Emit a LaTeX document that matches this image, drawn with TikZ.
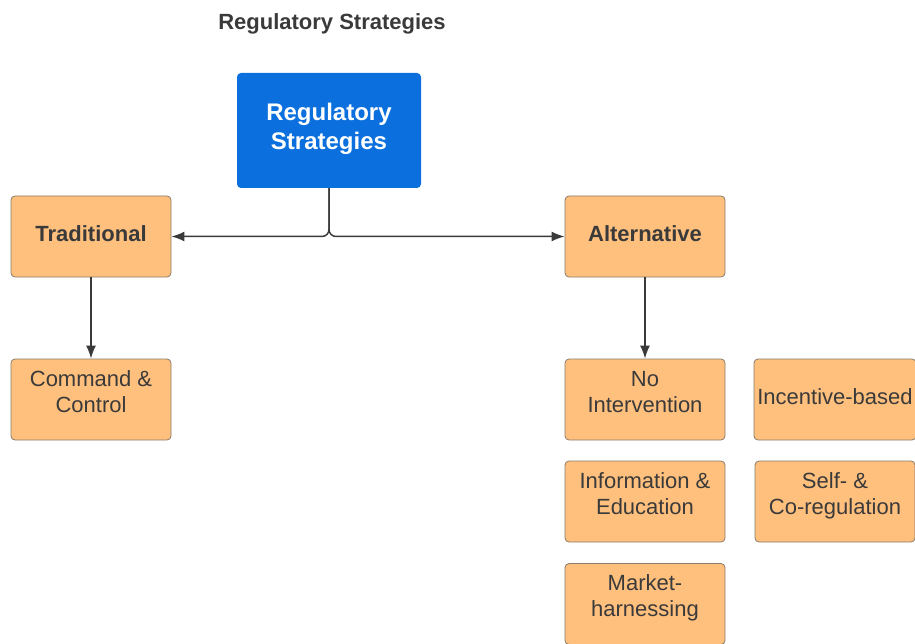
\documentclass[tikz,border=0pt]{standalone}
\usepackage{fontspec}
\setmainfont{Liberation Sans}
\usetikzlibrary{arrows.meta,positioning}

\definecolor{boxfill}{HTML}{FFC07E}
\definecolor{boxline}{HTML}{8A7A6A}
\definecolor{topfill}{HTML}{0B70DE}
\definecolor{ink}{HTML}{3A3A3A}

\begin{document}
\begin{tikzpicture}[x=1pt,y=-1pt,
    box/.style={draw=boxline, fill=boxfill, rounded corners=4pt, line width=0.8pt,
      minimum width=160pt, minimum height=81pt, align=center, text=ink, text depth=6pt,
      font=\fontsize{22}{26}\selectfont},
    twoline/.style={text depth=16pt},
    headbox/.style={box, font=\fontsize{22}{26}\selectfont\bfseries},
    link/.style={draw=ink, line width=1.5pt, -{Latex[length=13pt,width=10pt]}}]
  \useasboundingbox (0,0) rectangle (915,644);

  \node[text=ink, font=\fontsize{22}{26}\selectfont\bfseries] (title) at (332,23.5) {Regulatory Strategies};
  \node[fill=topfill, rounded corners=4pt, minimum width=184pt, minimum height=115pt,
    align=center, text=white, text depth=8pt, font=\fontsize{24}{29}\selectfont\bfseries] (rs)
    at (329,130.5) {Regulatory\\Strategies};

  \node[headbox] (trad) at (91,236.5) {Traditional};
  \node[headbox] (alt) at (645,236.5) {Alternative};

  \node[box, twoline] (cc) at (91,399.5) {Command \&\\Control};
  \node[box, twoline] (noint) at (645,399.5) {No\\Intervention};
  \node[box, twoline] (info) at (645,501.5) {Information \&\\Education};
  \node[box, twoline] (market) at (645,604) {Market-\\harnessing};
  \node[box] (incent) at (835,399.5) {Incentive-based};
  \node[box, twoline] (selfco) at (835,501.5) {Self- \&\\Co-regulation};

  \draw[link, rounded corners=7pt] (rs.south) |- (trad.east);
  \draw[link, rounded corners=7pt] (rs.south) |- (alt.west);
  \draw[link] (trad) -- (cc);
  \draw[link] (alt) -- (noint);
\end{tikzpicture}
\end{document}
